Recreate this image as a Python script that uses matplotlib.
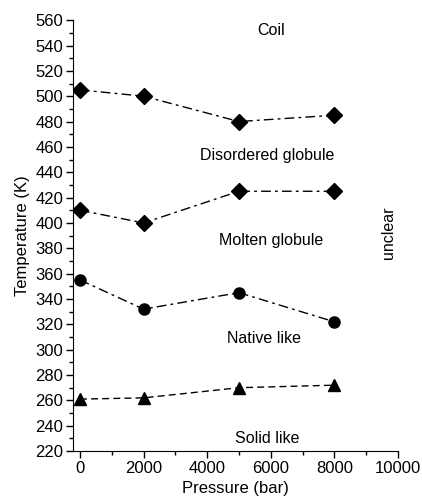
import matplotlib.pyplot as plt
from matplotlib.ticker import MultipleLocator

plt.rcParams['font.family'] = ['Liberation Sans', 'DejaVu Sans']

# Pression (bar) et temperatures de transition (K)
pression = [0, 2000, 5000, 8000]
coil = [505, 500, 480, 485]
desordonne = [410, 400, 425, 425]
natif = [355, 332, 345, 322]
solide = [261, 262, 270, 272]

regions = ['Coil', 'Disordered globule', 'Molten globule', 'Native like', 'Solid like']
regions_x = [6000, 5900, 6000, 5800, 5900]
regions_y = [552, 453, 386, 309, 230]

fig = plt.figure(figsize=(4.22, 5.04), dpi=100)
ax = fig.add_axes([0.173, 0.105, 0.770, 0.855])

tiret_point = (0, (7, 3, 2, 3))
ax.plot(pression, coil, color='black', linestyle=tiret_point, linewidth=1, marker='D', markersize=8)
ax.plot(pression, desordonne, color='black', linestyle=tiret_point, linewidth=1, marker='D', markersize=8)
ax.plot(pression, natif, color='black', linestyle=tiret_point, linewidth=1, marker='o', markersize=8)
ax.plot(pression, solide, color='black', linestyle=(0, (5, 3)), linewidth=1, marker='^', markersize=8)

for txt, x, y in zip(regions, regions_x, regions_y):
    ax.text(x, y, txt, ha='center', va='center', fontsize=11.5)
ax.text(9700, 392, 'unclear', rotation=90, ha='center', va='center', fontsize=11.5)

ax.set_xlim(-220, 10000)
ax.set_ylim(220, 560)
ax.xaxis.set_major_locator(MultipleLocator(2000))
ax.xaxis.set_minor_locator(MultipleLocator(1000))
ax.yaxis.set_major_locator(MultipleLocator(20))
ax.yaxis.set_minor_locator(MultipleLocator(10))
ax.tick_params(which='major', length=5, width=1, labelsize=12, pad=2)
ax.tick_params(which='minor', length=3, width=1)
ax.spines['top'].set_visible(False)
ax.spines['right'].set_visible(False)

ax.set_xlabel('Pressure (bar)', fontsize=12)
ax.set_ylabel('Temperature (K)', fontsize=12)

plt.savefig('out.png')
